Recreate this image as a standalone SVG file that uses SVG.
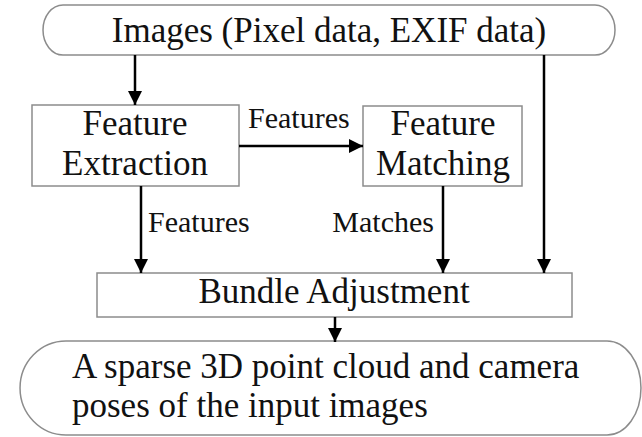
<svg xmlns="http://www.w3.org/2000/svg" width="642" height="437" viewBox="0 0 642 437">
<defs>
<style>
.shape{fill:#fff;stroke:#8c8c8c;stroke-width:1.5}
.t{font-family:"Liberation Serif","Times New Roman",serif;fill:#111;font-size:35px}
.lbl{font-family:"Liberation Serif","Times New Roman",serif;fill:#111;font-size:30px}
.conn{stroke:#000;stroke-width:2.5;fill:none;marker-end:url(#ah)}
</style>
<marker id="ah" markerUnits="userSpaceOnUse" markerWidth="14" markerHeight="14" viewBox="0 0 14 14" refX="14" refY="7" orient="auto">
<path d="M0,0 L14,7 L0,14 Z" fill="#000"/>
</marker>
</defs>
<rect width="642" height="437" fill="#fff"/>
<g id="images">
<rect class="shape" x="43" y="5" width="572" height="50" rx="20" ry="25"/>
<text class="t" x="329" y="42" text-anchor="middle">Images (Pixel data, EXIF data)</text>
</g>
<g id="feature-extraction">
<rect class="shape" x="32" y="105" width="207" height="81"/>
<text class="t" x="135" y="135" text-anchor="middle">Feature</text>
<text class="t" x="135" y="175" text-anchor="middle">Extraction</text>
</g>
<g id="feature-matching">
<rect class="shape" x="363" y="106" width="159" height="80"/>
<text class="t" x="443" y="135" text-anchor="middle">Feature</text>
<text class="t" x="443" y="175" text-anchor="middle">Matching</text>
</g>
<g id="bundle-adjustment">
<rect class="shape" x="97" y="273" width="475" height="44"/>
<text class="t" x="334" y="303" text-anchor="middle">Bundle Adjustment</text>
</g>
<g id="output">
<path class="shape" d="M66,341 H607 A34,47 0 0 1 607,435 H66 A46,47 0 0 1 66,341 Z"/>
<text class="t" x="72" y="378">A sparse 3D point cloud and camera</text>
<text class="t" x="72" y="417">poses of the input images</text>
</g>
<g id="connectors">
<line class="conn" x1="135" y1="55" x2="135" y2="105"/>
<line class="conn" x1="239" y1="146" x2="363" y2="146"/>
<line class="conn" x1="141" y1="186" x2="141" y2="273"/>
<line class="conn" x1="443" y1="186" x2="443" y2="273"/>
<line class="conn" x1="544" y1="55" x2="544" y2="273"/>
<line class="conn" x1="335" y1="317" x2="335" y2="342"/>
<text class="lbl" x="248" y="128">Features</text>
<text class="lbl" x="148" y="232">Features</text>
<text class="lbl" x="434" y="232" text-anchor="end">Matches</text>
</g>
</svg>
